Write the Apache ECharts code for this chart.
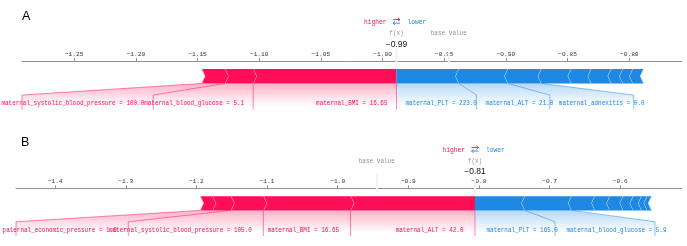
<!DOCTYPE html>
<html><head><meta charset="utf-8">
<script src="https://cdn.jsdelivr.net/npm/echarts@6/dist/echarts.min.js"></script>
<style>html,body{margin:0;padding:0;background:#fff}#c{width:687px;height:246px}</style>
</head><body><div id="c"></div>
<script>
// ===== Panel A data =====
const fxA = -0.9887;
const baseA = -0.9463;
const posLabelsA = ['maternal_BMI = 16.65', 'maternal_blood_glucose = 5.1', 'maternal_systolic_blood_pressure = 100.0'];
const posEffectsA = [0.1162, 0.0229, 0.0189];
const negLabelsA = ['maternal_PLT = 223.0', 'maternal_ALT = 21.0', 'maternal_adnexitis = 0.0', '', '', '', '', '', ''];
const negEffectsA = [0.0507, 0.0397, 0.0271, 0.0243, 0.0162, 0.0162, 0.0094, 0.0081, 0.0087];
const tickValuesA = [-1.25, -1.20, -1.15, -1.10, -1.05, -1.00, -0.95, -0.90, -0.85, -0.80];
const tickLabelsA = ['−1.25', '−1.20', '−1.15', '−1.10', '−1.05', '−1.00', '−0.95', '−0.90', '−0.85', '−0.80'];

// ===== Panel B data =====
const fxB = -0.8056;
const baseB = -0.9446;
const posLabelsB = ['maternal_ALT = 42.0', 'maternal_BMI = 16.65', 'maternal_systolic_blood_pressure = 105.0', '', 'paternal_economic_pressure = 1.0'];
const posEffectsB = [0.1762, 0.1234, 0.0461, 0.0260, 0.0174];
const negLabelsB = ['maternal_PLT = 165.0', 'maternal_blood_glucose = 5.9', '', '', '', '', '', '', ''];
const negEffectsB = [0.0708, 0.0661, 0.0330, 0.0212, 0.0188, 0.0142, 0.0119, 0.0079, 0.0062];
const tickValuesB = [-1.4, -1.3, -1.2, -1.1, -1.0, -0.9, -0.8, -0.7, -0.6];
const tickLabelsB = ['−1.4', '−1.3', '−1.2', '−1.1', '−1.0', '−0.9', '−0.8', '−0.7', '−0.6'];

// ===== layout (axis extents, label-box edges in axis units, px offsets) =====
const layoutA = { title: 'A', titleTop: 5, xMin: -1.2923, xMax: -0.7575,
  posBoxEnds: [-1.1049, -1.1859, -1.2923], negBoxEnds: [-0.9238, -0.8644, -0.7964],
  grid: { left: 22, right: 5.3, top: 61, height: 58.7 }, textOff: 9 };
const layoutB = { title: 'B', titleTop: 131, xMin: -1.4554, xMax: -0.5130,
  posBoxEnds: [-0.9818, -1.1053, -1.2964, -1.4554], negBoxEnds: [-0.6924, -0.5508],
  grid: { left: 16, right: 5.3, top: 188.3, height: 58.7 }, textOff: 11.5 };

const RED = '#FF0D57', BLUE = '#1E88E5', RED_SEP = '#FFC3D5', BLUE_SEP = '#D1E6FA';
const MONO = '"Liberation Mono", "DejaVu Sans Mono", monospace';
const SANS = '"Liberation Sans", Arial, sans-serif';
const IND = 3.3;

function fmtVal(v) { return v.toFixed(2).replace('-', '−'); }

function buildPanel(fx, base, posEff, posLab, negEff, negLab, L, gi) {
  const segs = [];
  let cur = fx;
  posEff.forEach((e, i) => { segs.push([cur - e, cur, i, 1]); cur -= e; });
  cur = fx;
  negEff.forEach((e, i) => { segs.push([cur, cur + e, i, -1]); cur += e; });

  const labelItems = [];
  const shadeItems = [];
  [[posEff, posLab, L.posBoxEnds, 1], [negEff, negLab, L.negBoxEnds, -1]].forEach(([eff, lab, ends, sg]) => {
    let boxStart = fx, acc = fx, k = 0, pre = fx, lastEnd = fx;
    eff.forEach((e, i) => {
      acc = acc - sg * e;
      if (lab[i]) {
        const be = ends[k++];
        labelItems.push([boxStart, be, acc, sg, i]);
        boxStart = be; pre = acc; lastEnd = be;
      }
    });
    shadeItems.push([fx, pre, lastEnd, sg]);
  });

  const series = [];
  series.push({
    type: 'custom', xAxisIndex: gi, yAxisIndex: gi, clip: false, z: 1, silent: true,
    data: [[fx, base]],
    renderItem(params, api) {
      const f = api.value(0), b = api.value(1);
      const f0 = api.coord([f, 0]), f1 = api.coord([f, 0.24]);
      const b0 = api.coord([b, 0.13]), b1 = api.coord([b, 0.25]);
      const tF = api.coord([f, 0.33]), tB = api.coord([b, 0.33]);
      const tV = api.coord([f, 0.25]);
      const tH = api.coord([f, 0.405]);
      const aR = api.coord([f, 0.425]), aL = api.coord([f, 0.40]);
      const gray = 'rgba(0,0,0,0.45)';
      const ry = aR[1] - 2.3, ly = aL[1] - 2.3, cx = aR[0];
      return { type: 'group', children: [
        { type: 'line', shape: { x1: f0[0], y1: f0[1], x2: f1[0], y2: f1[1] }, style: { stroke: '#F2F2F2', lineWidth: 2 } },
        { type: 'line', shape: { x1: b0[0], y1: b0[1], x2: b1[0], y2: b1[1] }, style: { stroke: '#F2F2F2', lineWidth: 2 } },
        { type: 'text', x: tB[0], y: tB[1] - 2.5, scaleX: 0.86, style: { text: 'base value', fill: gray, font: '7px ' + MONO, align: 'center', verticalAlign: 'middle' } },
        { type: 'text', x: tF[0], y: tF[1] - 2.5, scaleX: 0.86, style: { text: 'f(x)', fill: gray, font: '7px ' + MONO, align: 'center', verticalAlign: 'middle' } },
        { type: 'text', x: tV[0], y: tV[1] - 3, style: { text: fmtVal(f), fill: '#111', font: '8.5px ' + SANS, align: 'center', verticalAlign: 'middle' } },
        { type: 'text', x: tH[0] - 10, y: tH[1] - 3, scaleX: 0.86, style: { text: 'higher', fill: RED, font: '7.3px ' + MONO, align: 'right', verticalAlign: 'middle' } },
        { type: 'text', x: tH[0] + 11, y: tH[1] - 3, scaleX: 0.86, style: { text: 'lower', fill: BLUE, font: '7.3px ' + MONO, align: 'left', verticalAlign: 'middle' } },
        { type: 'polyline', shape: { points: [[cx - 3.5, ry], [cx + 3.5, ry]] }, style: { stroke: RED, lineWidth: 0.9, fill: null } },
        { type: 'polyline', shape: { points: [[cx + 1.5, ry - 1.6], [cx + 3.5, ry], [cx + 1.5, ry + 1.6]] }, style: { stroke: RED, lineWidth: 0.9, fill: null } },
        { type: 'polyline', shape: { points: [[cx - 3.5, ly], [cx + 3.5, ly]] }, style: { stroke: BLUE, lineWidth: 0.9, fill: null } },
        { type: 'polyline', shape: { points: [[cx - 1.5, ly - 1.6], [cx - 3.5, ly], [cx - 1.5, ly + 1.6]] }, style: { stroke: BLUE, lineWidth: 0.9, fill: null } }
      ] };
    }
  });
  series.push({
    type: 'custom', xAxisIndex: gi, yAxisIndex: gi, clip: false, z: 2, silent: true,
    data: shadeItems,
    renderItem(params, api) {
      const f = api.value(0), pre = api.value(1), be = api.value(2), sg = api.value(3);
      const rgb = sg > 0 ? '255,13,87' : '30,136,229';
      const pts = [api.coord([f, 0]), api.coord([pre, 0]), api.coord([be, -0.08]), api.coord([be, -0.2]), api.coord([f, -0.2])];
      const v0 = api.coord([f, 0]), v1 = api.coord([f, -0.18]);
      const children = [
        { type: 'polygon', shape: { points: pts }, style: { fill: { type: 'linear', x: 0, y: 0, x2: 0, y2: 1,
          colorStops: [{ offset: 0, color: 'rgba(' + rgb + ',0.32)' }, { offset: 0.775, color: 'rgba(' + rgb + ',0)' }, { offset: 1, color: 'rgba(' + rgb + ',0)' }] } } }
      ];
      if (sg > 0) children.push({ type: 'line', shape: { x1: v0[0], y1: v0[1], x2: v1[0], y2: v1[1] }, style: { stroke: 'rgba(' + rgb + ',0.5)', lineWidth: 1 } });
      return { type: 'group', children: children };
    }
  });
  series.push({
    type: 'custom', xAxisIndex: gi, yAxisIndex: gi, clip: false, z: 3, silent: true,
    data: segs,
    renderItem(params, api) {
      const x0 = api.value(0), x1 = api.value(1), i = api.value(2), sg = api.value(3);
      const pT = api.coord([x0, 0.1]), pB = api.coord([x1, 0]);
      const L = pT[0], R = pB[0], top = pT[1], bot = pB[1], mid = (top + bot) / 2;
      let pts, sep;
      if (sg > 0) {
        const tip = i === 0 ? R : R + IND;
        pts = [[L, bot], [R, bot], [tip, mid], [R, top], [L, top], [L + IND, mid]];
        sep = [[L, bot], [L + IND, mid], [L, top]];
      } else {
        const tip = i === 0 ? L : L - IND;
        pts = [[L, bot], [R, bot], [R - IND, mid], [R, top], [L, top], [tip, mid]];
        sep = [[R, bot], [R - IND, mid], [R, top]];
      }
      return { type: 'group', children: [
        { type: 'polygon', shape: { points: pts }, style: { fill: sg > 0 ? RED : BLUE } },
        { type: 'polyline', shape: { points: sep }, style: { stroke: sg > 0 ? RED_SEP : BLUE_SEP, lineWidth: 1, fill: null } }
      ] };
    }
  });
  series.push({
    type: 'custom', xAxisIndex: gi, yAxisIndex: gi, clip: false, z: 4, silent: true,
    data: labelItems,
    renderItem(params, api) {
      const bs = api.value(0), be = api.value(1), fe = api.value(2), sg = api.value(3), idx = api.value(4);
      const col = sg > 0 ? 'rgba(255,13,87,0.5)' : 'rgba(30,136,229,0.5)';
      const p0 = api.coord([fe, 0]), pk = api.coord([be, -0.08]), pe = api.coord([be, -0.18]);
      const tp = api.coord([bs, -0.15]);
      const text = sg > 0 ? posLab[idx] : negLab[idx];
      return { type: 'group', children: [
        { type: 'polyline', shape: { points: [p0, pk, pe] }, style: { stroke: col, lineWidth: 1, fill: null } },
        { type: 'text', x: tp[0] - sg * L.textOff, y: tp[1] - 2, scaleX: 0.85,
          style: { text: text, fill: sg > 0 ? RED : BLUE, font: '7px ' + MONO, align: sg > 0 ? 'right' : 'left', verticalAlign: 'middle' } }
      ] };
    }
  });
  return series;
}

function axisFor(L, vals, labs, gi) {
  return {
    gridIndex: gi, type: 'value', position: 'top', min: L.xMin, max: L.xMax,
    splitLine: { show: false },
    axisLine: { show: true, onZero: false, lineStyle: { color: '#8f8f8f', width: 1 } },
    axisTick: { show: true, length: 3, customValues: vals, lineStyle: { color: '#8f8f8f' } },
    axisLabel: { customValues: vals, margin: 4, color: '#333', fontFamily: MONO, fontSize: 6.2,
      formatter: v => { const i = vals.findIndex(t => Math.abs(t - v) < 1e-6); return i >= 0 ? labs[i] : ''; } }
  };
}

const chart = echarts.init(document.getElementById('c'), null, { renderer: 'canvas' });
chart.setOption({
  animation: false,
  backgroundColor: '#fff',
  title: [
    { text: layoutA.title, left: 17, top: layoutA.titleTop, textStyle: { fontFamily: SANS, fontSize: 12.5, fontWeight: 'normal', color: '#000' } },
    { text: layoutB.title, left: 16, top: layoutB.titleTop, textStyle: { fontFamily: SANS, fontSize: 12.5, fontWeight: 'normal', color: '#000' } }
  ],
  grid: [
    Object.assign({ containLabel: false }, layoutA.grid),
    Object.assign({ containLabel: false }, layoutB.grid)
  ],
  xAxis: [axisFor(layoutA, tickValuesA, tickLabelsA, 0), axisFor(layoutB, tickValuesB, tickLabelsB, 1)],
  yAxis: [
    { gridIndex: 0, type: 'value', min: -0.25, max: 0.155, show: false },
    { gridIndex: 1, type: 'value', min: -0.25, max: 0.155, show: false }
  ],
  series: [].concat(
    buildPanel(fxA, baseA, posEffectsA, posLabelsA, negEffectsA, negLabelsA, layoutA, 0),
    buildPanel(fxB, baseB, posEffectsB, posLabelsB, negEffectsB, negLabelsB, layoutB, 1)
  )
});
</script></body></html>
